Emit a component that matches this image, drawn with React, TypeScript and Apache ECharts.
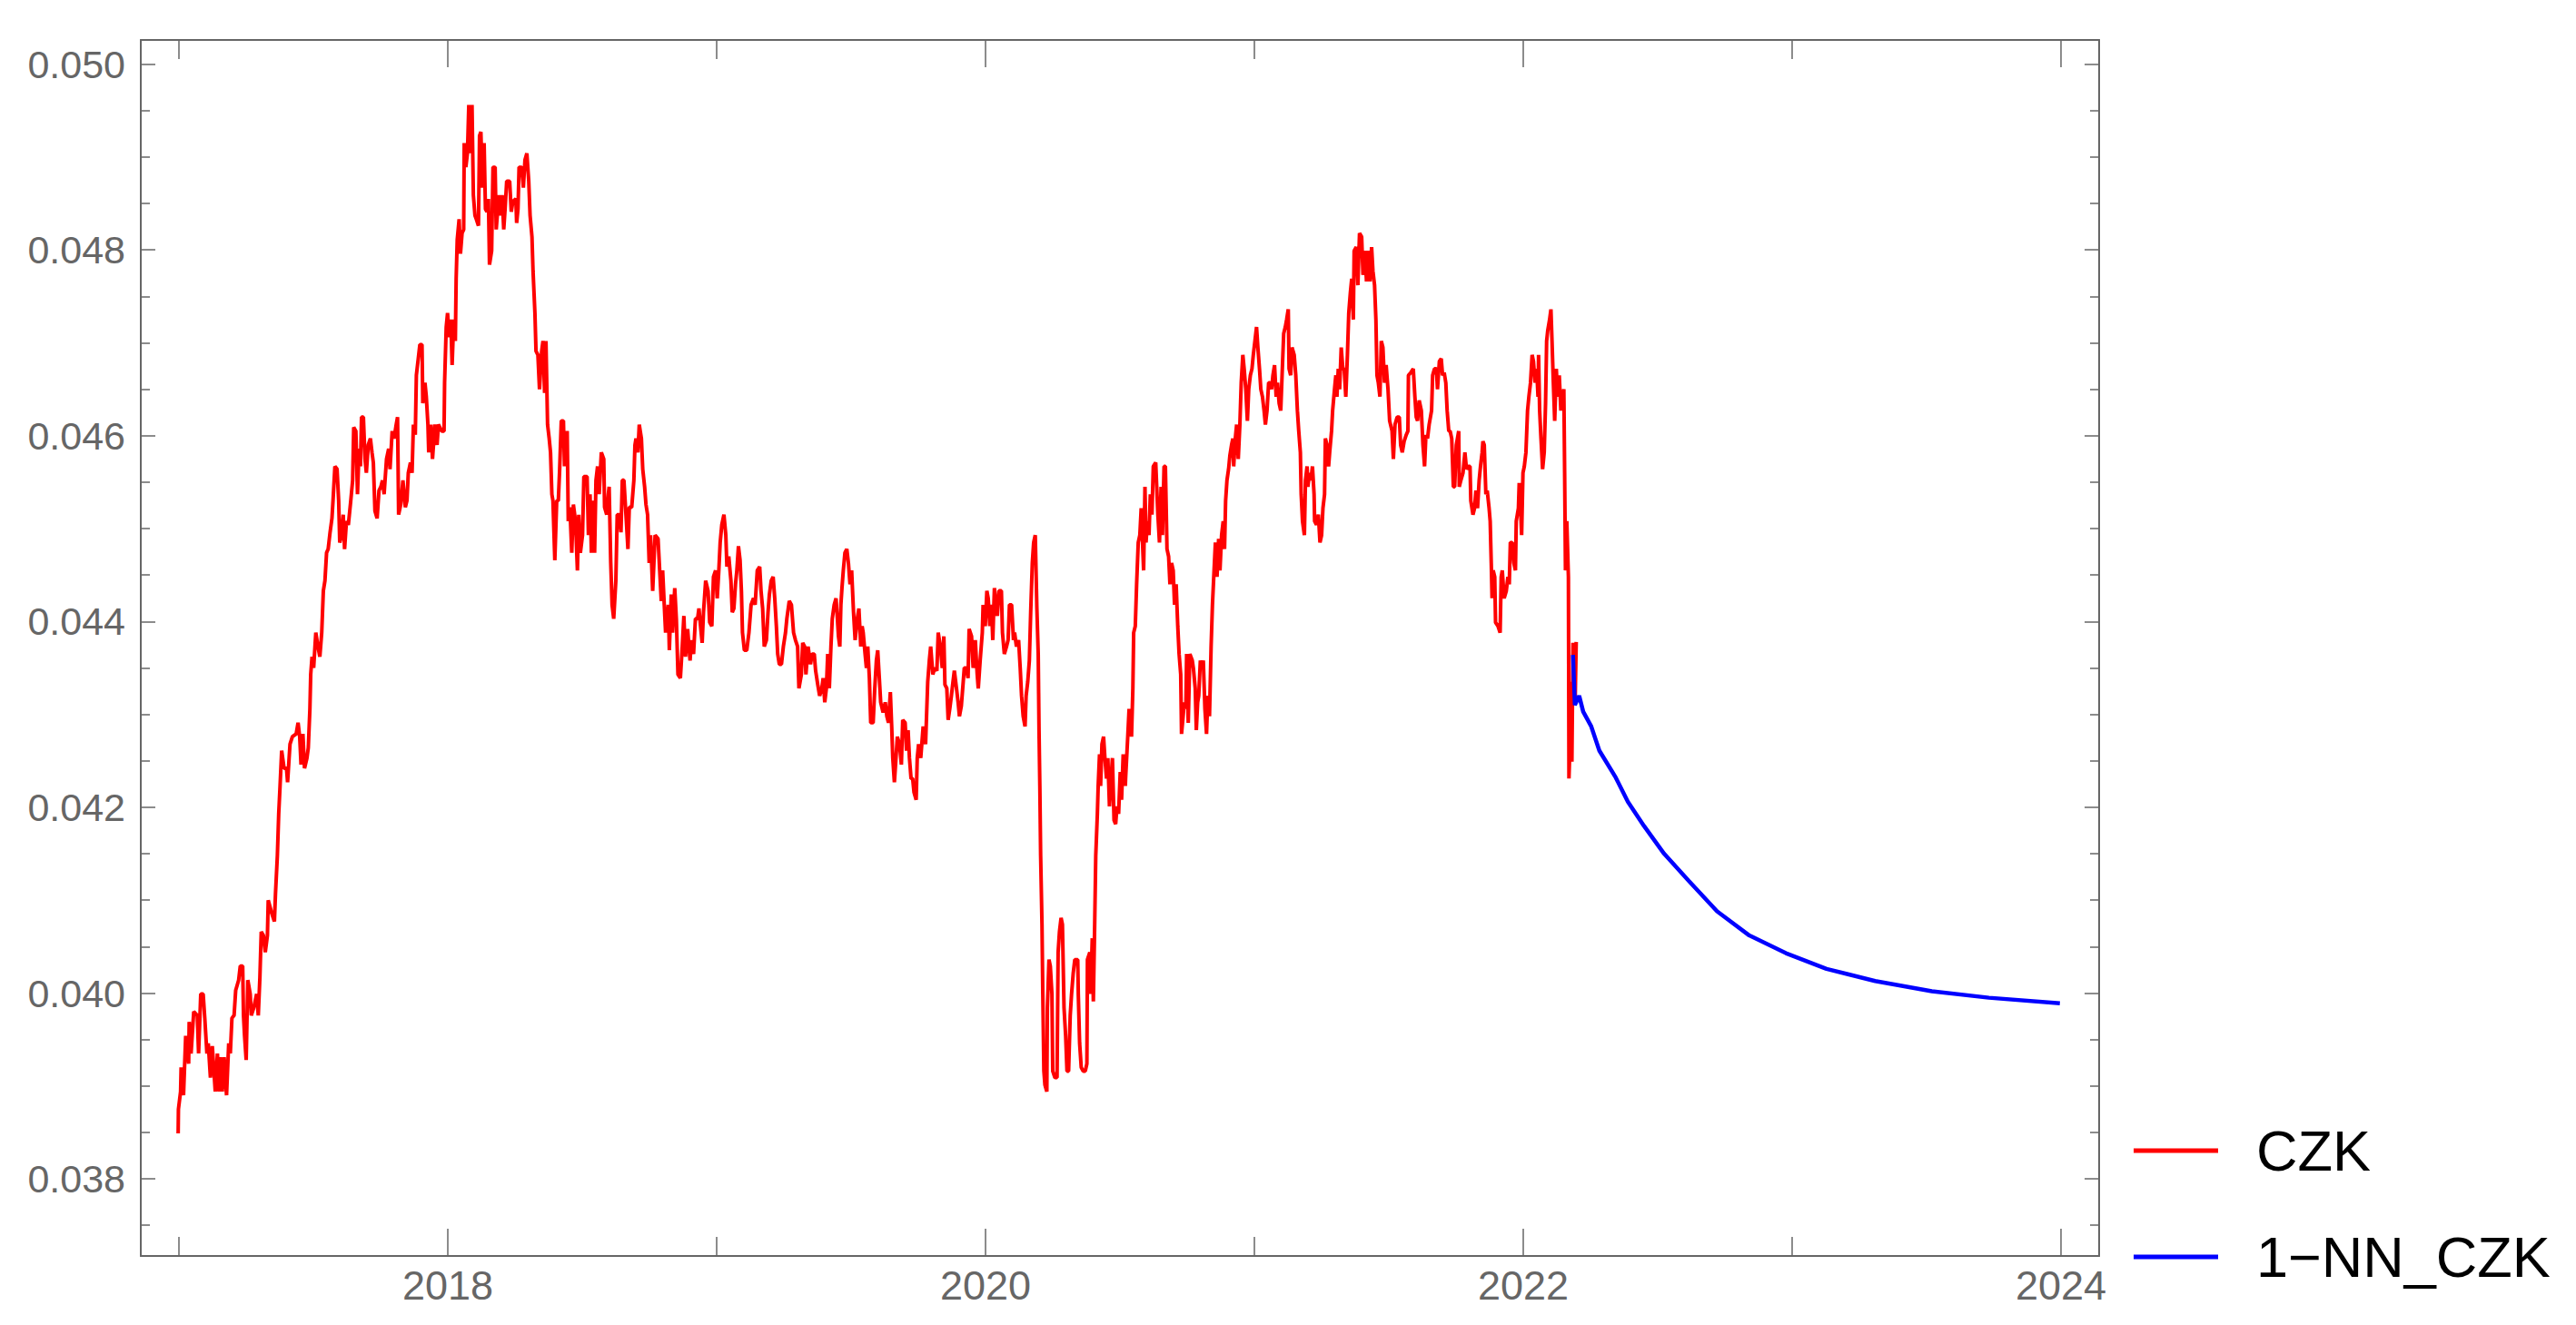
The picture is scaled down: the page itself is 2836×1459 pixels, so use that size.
import React, { useEffect, useRef } from "react";
import * as echarts from "echarts";

// ---- CZK observed series: [decimal year, value] ----
const czk2017: number[][] = [
  [2016.997,0.03849],[2016.998,0.03875],[2017.006,0.03894],[2017.008,0.03920],[2017.017,0.03890],[2017.025,0.03954],[2017.036,0.03924],[2017.038,0.03969],[2017.045,0.03935],[2017.055,0.03980],[2017.068,0.03976],[2017.073,0.03935],[2017.081,0.03999],[2017.090,0.03999],[2017.096,0.03973],[2017.104,0.03935],[2017.109,0.03946],[2017.117,0.03909],[2017.124,0.03943],[2017.135,0.03894],[2017.143,0.03935],[2017.149,0.03894],[2017.154,0.03931],[2017.161,0.03894],[2017.168,0.03931],[2017.177,0.03890],[2017.185,0.03946],[2017.191,0.03935],[2017.197,0.03973],[2017.205,0.03976],[2017.211,0.04003],[2017.222,0.04014],[2017.228,0.04029],[2017.237,0.04029],[2017.240,0.03976],[2017.244,0.03954],[2017.250,0.03928],[2017.256,0.04014],[2017.265,0.03999],[2017.269,0.03976],[2017.278,0.03984],[2017.289,0.03999],[2017.295,0.03976],[2017.301,0.04017],[2017.306,0.04066],[2017.314,0.04062],[2017.321,0.04044],[2017.329,0.04062],[2017.332,0.04100],[2017.346,0.04085],[2017.355,0.04077],[2017.359,0.04107],[2017.366,0.04148],[2017.371,0.04193],[2017.376,0.04223],[2017.382,0.04261],[2017.391,0.04242],[2017.400,0.04242],[2017.404,0.04227],[2017.413,0.04268],[2017.422,0.04276],[2017.436,0.04279],[2017.443,0.04291],[2017.449,0.04276],[2017.454,0.04246],[2017.461,0.04279],[2017.467,0.04242],[2017.476,0.04253],[2017.481,0.04264],[2017.487,0.04306],[2017.490,0.04343],[2017.495,0.04362],[2017.501,0.04350],[2017.509,0.04388],[2017.517,0.04373],[2017.524,0.04362],[2017.531,0.04388],[2017.537,0.04433],[2017.543,0.04444],[2017.549,0.04474],[2017.555,0.04478],[2017.562,0.04496],[2017.569,0.04511],[2017.573,0.04530],[2017.580,0.04567],[2017.588,0.04564],[2017.594,0.04530],[2017.598,0.04485],[2017.605,0.04493],[2017.611,0.04515],[2017.616,0.04478],[2017.623,0.04508],[2017.630,0.04504],[2017.639,0.04530],[2017.646,0.04552],[2017.650,0.04609],[2017.658,0.04605],[2017.664,0.04537],[2017.670,0.04586],[2017.675,0.04567],[2017.679,0.04620],[2017.686,0.04620],[2017.692,0.04575],[2017.697,0.04560],[2017.704,0.04590],[2017.712,0.04597],[2017.718,0.04582],[2017.723,0.04571],[2017.729,0.04519],[2017.737,0.04511],[2017.744,0.04541],[2017.751,0.04545],[2017.757,0.04552],[2017.763,0.04537],[2017.772,0.04575],[2017.780,0.04586],[2017.785,0.04564],[2017.793,0.04605],[2017.800,0.04597],[2017.808,0.04612],[2017.813,0.04620],[2017.817,0.04515],[2017.825,0.04526],[2017.833,0.04552],[2017.842,0.04523],[2017.848,0.04530],[2017.853,0.04560],[2017.861,0.04571],[2017.867,0.04560],[2017.872,0.04612],[2017.879,0.04601],[2017.883,0.04665]
];

const czk2018: number[][] = [
  [2017.896,0.04698],[2017.904,0.04698],[2017.907,0.04635],[2017.915,0.04657],[2017.920,0.04642],[2017.926,0.04612],[2017.929,0.04582],[2017.937,0.04612],[2017.943,0.04575],[2017.952,0.04612],[2017.960,0.04590],[2017.965,0.04612],[2017.977,0.04605],[2017.986,0.04605],[2017.988,0.04657],[2017.994,0.04717],[2017.999,0.04732],[2018.005,0.04706],[2018.011,0.04725],[2018.016,0.04676],[2018.022,0.04725],[2018.028,0.04702],[2018.031,0.04769],[2018.035,0.04811],[2018.042,0.04833],[2018.047,0.04796],[2018.053,0.04818],[2018.059,0.04822],[2018.061,0.04915],[2018.067,0.04889],[2018.073,0.04904],[2018.078,0.04956],[2018.084,0.04904],[2018.090,0.04956],[2018.095,0.04859],[2018.101,0.04837],[2018.106,0.04833],[2018.114,0.04826],[2018.118,0.04923],[2018.123,0.04927],[2018.129,0.04867],[2018.135,0.04915],[2018.140,0.04844],[2018.146,0.04841],[2018.151,0.04855],[2018.155,0.04784],[2018.163,0.04799],[2018.168,0.04889],[2018.176,0.04889],[2018.180,0.04822],[2018.185,0.04841],[2018.191,0.04859],[2018.196,0.04837],[2018.202,0.04859],[2018.208,0.04822],[2018.213,0.04844],[2018.219,0.04874],[2018.230,0.04874],[2018.236,0.04841],[2018.242,0.04852],[2018.253,0.04855],[2018.256,0.04829],[2018.261,0.04844],[2018.265,0.04889],[2018.275,0.04889],[2018.281,0.04867],[2018.287,0.04897],[2018.294,0.04904],[2018.301,0.04874],[2018.306,0.04837],[2018.313,0.04814],[2018.317,0.04777],[2018.324,0.04732],[2018.328,0.04691],[2018.335,0.04687],[2018.341,0.04650],[2018.349,0.04691],[2018.354,0.04702],[2018.360,0.04646],[2018.365,0.04702],[2018.371,0.04612],[2018.377,0.04597],[2018.382,0.04582],[2018.387,0.04537],[2018.391,0.04530],[2018.398,0.04466],[2018.405,0.04530],[2018.411,0.04530],[2018.416,0.04564],[2018.422,0.04616],[2018.430,0.04616],[2018.434,0.04567],[2018.439,0.04597],[2018.444,0.04605],[2018.448,0.04508],[2018.454,0.04523],[2018.461,0.04474],[2018.467,0.04526],[2018.475,0.04508],[2018.482,0.04455],[2018.487,0.04515],[2018.493,0.04474],[2018.501,0.04493],[2018.506,0.04556],[2018.518,0.04556],[2018.523,0.04493],[2018.529,0.04537],[2018.534,0.04474],[2018.540,0.04530],[2018.546,0.04474],[2018.551,0.04552],[2018.557,0.04567],[2018.563,0.04537],[2018.571,0.04582],[2018.580,0.04575],[2018.583,0.04523],[2018.591,0.04515],[2018.597,0.04537],[2018.600,0.04545],[2018.606,0.04463],[2018.611,0.04418],[2018.617,0.04403],[2018.625,0.04444],[2018.630,0.04515],[2018.638,0.04515],[2018.644,0.04496],[2018.649,0.04552],[2018.655,0.04552],[2018.664,0.04508],[2018.670,0.04478],[2018.675,0.04523],[2018.684,0.04523],[2018.692,0.04552],[2018.696,0.04590],[2018.700,0.04597],[2018.707,0.04582],[2018.712,0.04612],[2018.720,0.04597],[2018.725,0.04564],[2018.732,0.04545],[2018.737,0.04526],[2018.743,0.04515],[2018.749,0.04463],[2018.754,0.04493],[2018.762,0.04433]
];

const czk2019: number[][] = [
  [2018.771,0.04493],[2018.782,0.04489],[2018.788,0.04455],[2018.794,0.04422],[2018.799,0.04455],[2018.805,0.04418],[2018.810,0.04388],[2018.820,0.04418],[2018.824,0.04369],[2018.831,0.04429],[2018.836,0.04388],[2018.844,0.04436],[2018.850,0.04403],[2018.856,0.04343],[2018.865,0.04339],[2018.872,0.04373],[2018.878,0.04406],[2018.884,0.04362],[2018.892,0.04392],[2018.901,0.04358],[2018.906,0.04380],[2018.914,0.04365],[2018.921,0.04403],[2018.929,0.04403],[2018.934,0.04414],[2018.940,0.04395],[2018.946,0.04377],[2018.951,0.04410],[2018.959,0.04444],[2018.968,0.04433],[2018.974,0.04399],[2018.982,0.04395],[2018.988,0.04448],[2018.996,0.04455],[2019.002,0.04425],[2019.008,0.04455],[2019.013,0.04485],[2019.019,0.04504],[2019.027,0.04515],[2019.034,0.04493],[2019.038,0.04459],[2019.045,0.04470],[2019.053,0.04444],[2019.058,0.04410],[2019.064,0.04414],[2019.070,0.04440],[2019.075,0.04455],[2019.081,0.04481],[2019.087,0.04466],[2019.092,0.04433],[2019.096,0.04388],[2019.103,0.04369],[2019.112,0.04369],[2019.120,0.04388],[2019.128,0.04418],[2019.137,0.04425],[2019.143,0.04418],[2019.151,0.04455],[2019.160,0.04459],[2019.165,0.04433],[2019.171,0.04414],[2019.177,0.04373],[2019.185,0.04380],[2019.191,0.04410],[2019.196,0.04429],[2019.203,0.04444],[2019.210,0.04448],[2019.216,0.04425],[2019.222,0.04395],[2019.227,0.04365],[2019.233,0.04354],[2019.241,0.04354],[2019.248,0.04373],[2019.256,0.04388],[2019.261,0.04403],[2019.270,0.04422],[2019.278,0.04418],[2019.286,0.04388],[2019.293,0.04380],[2019.301,0.04373],[2019.306,0.04328],[2019.315,0.04343],[2019.320,0.04377],[2019.327,0.04373],[2019.332,0.04343],[2019.340,0.04373],[2019.349,0.04354],[2019.355,0.04365],[2019.363,0.04365],[2019.368,0.04347],[2019.376,0.04332],[2019.383,0.04320],[2019.391,0.04328],[2019.396,0.04339],[2019.402,0.04313],[2019.408,0.04328],[2019.413,0.04365],[2019.419,0.04328],[2019.425,0.04373],[2019.430,0.04403],[2019.437,0.04418],[2019.444,0.04425],[2019.449,0.04403],[2019.453,0.04384],[2019.458,0.04373],[2019.462,0.04418],[2019.466,0.04436],[2019.471,0.04455],[2019.477,0.04474],[2019.484,0.04478],[2019.490,0.04463],[2019.496,0.04440],[2019.502,0.04455],[2019.509,0.04410],[2019.515,0.04380],[2019.523,0.04403],[2019.529,0.04414],[2019.536,0.04373],[2019.541,0.04395],[2019.545,0.04388],[2019.552,0.04365],[2019.557,0.04350],[2019.562,0.04373],[2019.568,0.04339],[2019.573,0.04291],[2019.582,0.04291],[2019.588,0.04328],[2019.594,0.04358],[2019.599,0.04369],[2019.605,0.04339],[2019.610,0.04313],[2019.619,0.04302],[2019.627,0.04313],[2019.633,0.04298],[2019.639,0.04291]
];

const czk2020: number[][] = [
  [2019.646,0.04324],[2019.651,0.04287],[2019.655,0.04253],[2019.661,0.04227],[2019.667,0.04253],[2019.672,0.04276],[2019.680,0.04268],[2019.687,0.04246],[2019.692,0.04294],[2019.701,0.04291],[2019.706,0.04261],[2019.712,0.04283],[2019.717,0.04253],[2019.723,0.04231],[2019.729,0.04231],[2019.734,0.04216],[2019.742,0.04208],[2019.746,0.04253],[2019.751,0.04268],[2019.759,0.04253],[2019.768,0.04287],[2019.777,0.04268],[2019.785,0.04335],[2019.791,0.04358],[2019.796,0.04373],[2019.804,0.04343],[2019.811,0.04350],[2019.819,0.04347],[2019.824,0.04388],[2019.832,0.04373],[2019.839,0.04350],[2019.845,0.04384],[2019.849,0.04332],[2019.856,0.04328],[2019.861,0.04294],[2019.867,0.04306],[2019.873,0.04320],[2019.879,0.04335],[2019.884,0.04347],[2019.892,0.04328],[2019.898,0.04313],[2019.903,0.04298],[2019.910,0.04309],[2019.917,0.04335],[2019.921,0.04350],[2019.928,0.04350],[2019.935,0.04339],[2019.939,0.04392],[2019.948,0.04384],[2019.954,0.04350],[2019.962,0.04380],[2019.969,0.04343],[2019.973,0.04328],[2019.980,0.04358],[2019.988,0.04388],[2019.991,0.04418],[2019.999,0.04395],[2020.005,0.04433],[2020.010,0.04425],[2020.016,0.04395],[2020.022,0.04418],[2020.027,0.04380],[2020.033,0.04436],[2020.039,0.04418],[2020.044,0.04406],[2020.050,0.04433],[2020.059,0.04433],[2020.063,0.04388],[2020.070,0.04365],[2020.078,0.04373],[2020.084,0.04380],[2020.089,0.04418],[2020.097,0.04418],[2020.104,0.04380],[2020.108,0.04388],[2020.115,0.04373],[2020.123,0.04380],[2020.129,0.04350],[2020.134,0.04320],[2020.140,0.04298],[2020.147,0.04287],[2020.151,0.04320],[2020.157,0.04335],[2020.163,0.04358],[2020.168,0.04410],[2020.174,0.04463],[2020.179,0.04485],[2020.185,0.04493],[2020.191,0.04414],[2020.196,0.04365],[2020.199,0.04283],[2020.202,0.04223],[2020.205,0.04148],[2020.210,0.04074],[2020.213,0.03999],[2020.217,0.03916],[2020.221,0.03901],[2020.228,0.03894],[2020.230,0.03984],[2020.236,0.04036],[2020.241,0.04029],[2020.247,0.03999],[2020.250,0.03916],[2020.258,0.03909],[2020.266,0.03909],[2020.270,0.04044],[2020.275,0.04066],[2020.281,0.04081],[2020.286,0.04074],[2020.292,0.03984],[2020.298,0.03954],[2020.303,0.03916],[2020.309,0.03916],[2020.315,0.03976],[2020.320,0.03999],[2020.326,0.04021],[2020.332,0.04036],[2020.343,0.04036],[2020.345,0.03999],[2020.350,0.03946],[2020.356,0.03920],[2020.363,0.03916],[2020.371,0.03916],[2020.377,0.03924],[2020.379,0.04036],[2020.388,0.04044],[2020.391,0.03999],[2020.397,0.04059],[2020.401,0.03991],[2020.406,0.04074],[2020.410,0.04148],[2020.416,0.04193],[2020.419,0.04223],[2020.424,0.04257],[2020.428,0.04223],[2020.433,0.04268],[2020.439,0.04276],[2020.444,0.04253],[2020.450,0.04231],[2020.455,0.04253],[2020.461,0.04201],[2020.467,0.04231],[2020.472,0.04253],[2020.478,0.04186],[2020.484,0.04182],[2020.489,0.04201],[2020.495,0.04193],[2020.501,0.04238],[2020.506,0.04208],[2020.512,0.04257],[2020.520,0.04223]
];

const czk2021: number[][] = [
  [2020.521,0.04231],[2020.529,0.04276],[2020.534,0.04306],[2020.543,0.04276],[2020.548,0.04328],[2020.551,0.04388],[2020.557,0.04395],[2020.562,0.04440],[2020.568,0.04485],[2020.574,0.04493],[2020.579,0.04522],[2020.588,0.04455],[2020.593,0.04545],[2020.597,0.04485],[2020.602,0.04508],[2020.608,0.04493],[2020.613,0.04537],[2020.619,0.04515],[2020.624,0.04567],[2020.633,0.04571],[2020.641,0.04515],[2020.647,0.04485],[2020.653,0.04545],[2020.658,0.04493],[2020.664,0.04567],[2020.669,0.04567],[2020.675,0.04478],[2020.681,0.04470],[2020.686,0.04440],[2020.692,0.04463],[2020.698,0.04455],[2020.703,0.04418],[2020.709,0.04440],[2020.715,0.04395],[2020.720,0.04365],[2020.726,0.04343],[2020.729,0.04279],[2020.735,0.04298],[2020.739,0.04313],[2020.745,0.04306],[2020.748,0.04365],[2020.754,0.04291],[2020.760,0.04365],[2020.769,0.04358],[2020.773,0.04350],[2020.780,0.04328],[2020.784,0.04283],[2020.789,0.04313],[2020.793,0.04320],[2020.799,0.04358],[2020.805,0.04350],[2020.810,0.04358],[2020.816,0.04306],[2020.822,0.04279],[2020.827,0.04320],[2020.833,0.04298],[2020.839,0.04373],[2020.844,0.04418],[2020.850,0.04455],[2020.855,0.04485],[2020.861,0.04448],[2020.867,0.04489],[2020.872,0.04455],[2020.878,0.04493],[2020.884,0.04508],[2020.889,0.04478],[2020.893,0.04530],[2020.898,0.04552],[2020.904,0.04564],[2020.909,0.04579],[2020.915,0.04590],[2020.920,0.04597],[2020.923,0.04567],[2020.929,0.04597],[2020.934,0.04612],[2020.940,0.04575],[2020.946,0.04612],[2020.951,0.04657],[2020.957,0.04687],[2020.962,0.04672],[2020.968,0.04650],[2020.974,0.04616],[2020.979,0.04650],[2020.985,0.04665],[2020.991,0.04672],[2020.996,0.04687],[2021.002,0.04702],[2021.008,0.04717],[2021.013,0.04695],[2021.019,0.04672],[2021.024,0.04650],[2021.030,0.04642],[2021.036,0.04627],[2021.041,0.04612],[2021.047,0.04627],[2021.053,0.04657],[2021.058,0.04657],[2021.064,0.04650],[2021.069,0.04665],[2021.075,0.04676],[2021.081,0.04642],[2021.086,0.04657],[2021.092,0.04635],[2021.098,0.04627],[2021.103,0.04665],[2021.109,0.04710],[2021.115,0.04717],[2021.120,0.04725],[2021.126,0.04736],[2021.129,0.04672],[2021.135,0.04665],[2021.140,0.04695],[2021.148,0.04687],[2021.154,0.04665],[2021.160,0.04627],[2021.165,0.04605],[2021.171,0.04582],[2021.174,0.04537],[2021.179,0.04508],[2021.186,0.04493],[2021.190,0.04552],[2021.196,0.04567],[2021.199,0.04545],[2021.205,0.04560],[2021.210,0.04552],[2021.216,0.04567],[2021.222,0.04537],[2021.224,0.04508],[2021.231,0.04504],[2021.238,0.04515],[2021.244,0.04485],[2021.250,0.04493],[2021.255,0.04522],[2021.261,0.04537],[2021.264,0.04597],[2021.270,0.04590],[2021.276,0.04567],[2021.280,0.04582],[2021.287,0.04605],[2021.291,0.04627],[2021.298,0.04650],[2021.303,0.04665],[2021.307,0.04642],[2021.312,0.04672],[2021.317,0.04650],[2021.323,0.04695],[2021.329,0.04672],[2021.334,0.04672],[2021.340,0.04642],[2021.346,0.04687],[2021.351,0.04732],[2021.357,0.04754],[2021.362,0.04769],[2021.368,0.04725],[2021.371,0.04799],[2021.379,0.04803],[2021.385,0.04762],[2021.391,0.04818],[2021.399,0.04814]
];

const czk2022: number[][] = [
  [2021.404,0.04773],[2021.411,0.04799],[2021.417,0.04766],[2021.424,0.04799],[2021.430,0.04766],[2021.436,0.04803],[2021.441,0.04777],[2021.447,0.04762],[2021.452,0.04725],[2021.456,0.04665],[2021.461,0.04657],[2021.467,0.04642],[2021.472,0.04702],[2021.478,0.04695],[2021.484,0.04657],[2021.490,0.04676],[2021.497,0.04650],[2021.503,0.04616],[2021.512,0.04605],[2021.517,0.04575],[2021.523,0.04612],[2021.531,0.04620],[2021.539,0.04620],[2021.544,0.04590],[2021.550,0.04582],[2021.557,0.04594],[2021.565,0.04601],[2021.571,0.04605],[2021.573,0.04665],[2021.582,0.04668],[2021.591,0.04672],[2021.597,0.04642],[2021.602,0.04620],[2021.607,0.04616],[2021.613,0.04638],[2021.621,0.04627],[2021.627,0.04590],[2021.633,0.04567],[2021.638,0.04601],[2021.644,0.04597],[2021.650,0.04612],[2021.659,0.04627],[2021.663,0.04665],[2021.670,0.04672],[2021.677,0.04672],[2021.681,0.04650],[2021.688,0.04680],[2021.695,0.04683],[2021.700,0.04665],[2021.706,0.04668],[2021.712,0.04657],[2021.717,0.04627],[2021.723,0.04605],[2021.728,0.04605],[2021.734,0.04597],[2021.740,0.04545],[2021.745,0.04545],[2021.751,0.04590],[2021.760,0.04605],[2021.762,0.04545],[2021.768,0.04552],[2021.776,0.04560],[2021.783,0.04582],[2021.789,0.04564],[2021.796,0.04567],[2021.802,0.04567],[2021.805,0.04530],[2021.813,0.04515],[2021.819,0.04522],[2021.824,0.04541],[2021.830,0.04522],[2021.836,0.04552],[2021.841,0.04567],[2021.847,0.04582],[2021.850,0.04594],[2021.855,0.04590],[2021.861,0.04537],[2021.866,0.04541],[2021.873,0.04522],[2021.877,0.04508],[2021.881,0.04463],[2021.884,0.04425],[2021.888,0.04455],[2021.894,0.04448],[2021.897,0.04399],[2021.906,0.04395],[2021.914,0.04388],[2021.918,0.04448],[2021.922,0.04455],[2021.929,0.04425],[2021.937,0.04433],[2021.943,0.04448],[2021.948,0.04440],[2021.952,0.04485],[2021.959,0.04485],[2021.965,0.04463],[2021.971,0.04455],[2021.974,0.04508],[2021.982,0.04522],[2021.985,0.04549],[2021.990,0.04522],[2021.994,0.04493],[2021.999,0.04560],[2022.004,0.04567],[2022.010,0.04582],[2022.016,0.04627],[2022.021,0.04642],[2022.027,0.04657],[2022.033,0.04687],[2022.038,0.04680],[2022.044,0.04657],[2022.050,0.04672],[2022.055,0.04642],[2022.057,0.04687],[2022.061,0.04627],[2022.066,0.04597],[2022.072,0.04564],[2022.078,0.04582],[2022.083,0.04635],[2022.087,0.04702],[2022.091,0.04713],[2022.098,0.04725],[2022.103,0.04736],[2022.107,0.04702],[2022.112,0.04657],[2022.117,0.04616],[2022.123,0.04672],[2022.128,0.04642],[2022.134,0.04665],[2022.140,0.04627],[2022.145,0.04642],[2022.151,0.04650],[2022.154,0.04560],[2022.157,0.04455],[2022.162,0.04508],[2022.168,0.04448],[2022.170,0.04231],[2022.174,0.04268],[2022.177,0.04335],[2022.181,0.04249],[2022.185,0.04377],[2022.193,0.04313],[2022.197,0.04378]
];

// ---- 1−NN_CZK forecast ----
const nnCzk: number[][] = [
  [2022.185,0.04364],[2022.192,0.04310],[2022.208,0.04320],[2022.223,0.04303],[2022.253,0.04287],[2022.283,0.04261],[2022.344,0.04232],[2022.389,0.04206],[2022.449,0.04180],[2022.524,0.04150],[2022.615,0.04121],[2022.721,0.04088],[2022.841,0.04062],[2022.977,0.04043],[2023.128,0.04026],[2023.309,0.04013],[2023.520,0.04002],[2023.732,0.03995],[2023.996,0.03989]
];

// ---- ticks ----
const xMajorTicks = [2018, 2020, 2022, 2024];
const xMinorTicks = [2017, 2019, 2021, 2023];
const yMajorTicks = [0.038, 0.040, 0.042, 0.044, 0.046, 0.048, 0.050];
const yMinorTicks = [0.0375, 0.0385, 0.039, 0.0395, 0.0405, 0.041, 0.0415, 0.0425, 0.043, 0.0435, 0.0445, 0.045, 0.0455, 0.0465, 0.047, 0.0475, 0.0485, 0.049, 0.0495];

const seriesNames = ["CZK", "1\u2212NN_CZK"];

const X_MIN = 2016.858;
const X_MAX = 2024.142;
const Y_MIN = 0.03717;
const Y_MAX = 0.05026;

const FRAME = "#666666";
const LABEL_FONT = "Liberation Sans, Arial, sans-serif";

function xAxisDef(position: string, ticks: number[], len: number, line: boolean, labels: boolean) {
  return {
    type: "value",
    min: X_MIN,
    max: X_MAX,
    position,
    axisLine: { show: line, onZero: false, lineStyle: { color: FRAME, width: 2 } },
    axisTick: { show: true, inside: true, length: len, customValues: ticks, lineStyle: { color: FRAME, width: 1.5 } },
    axisLabel: labels
      ? { show: true, customValues: ticks, margin: 10, fontSize: 45, color: FRAME, fontFamily: LABEL_FONT, formatter: (v: number) => String(Math.round(v)) }
      : { show: false },
    splitLine: { show: false },
    axisPointer: { show: false },
  };
}

function yAxisDef(position: string, ticks: number[], len: number, line: boolean, labels: boolean) {
  return {
    type: "value",
    min: Y_MIN,
    max: Y_MAX,
    position,
    axisLine: { show: line, onZero: false, lineStyle: { color: FRAME, width: 2 } },
    axisTick: { show: true, inside: true, length: len, customValues: ticks, lineStyle: { color: FRAME, width: 1.5 } },
    axisLabel: labels
      ? { show: true, customValues: ticks, margin: 17, fontSize: 43, color: FRAME, fontFamily: LABEL_FONT, formatter: (v: number) => v.toFixed(3) }
      : { show: false },
    splitLine: { show: false },
    axisPointer: { show: false },
  };
}

export default function App() {
  const ref = useRef<HTMLDivElement>(null);
  useEffect(() => {
    document.body.style.margin = "0";
    if (!ref.current) return;
    const chart = echarts.init(ref.current, undefined, { renderer: "svg" });
    const czk = ([] as number[][]).concat(czk2017, czk2018, czk2019, czk2020, czk2021, czk2022);
    chart.setOption({
      animation: false,
      backgroundColor: "#ffffff",
      grid: { left: 155, right: 525, top: 44, bottom: 76, containLabel: false },
      xAxis: [
        xAxisDef("bottom", xMajorTicks, 30, true, true),
        xAxisDef("bottom", xMinorTicks, 21, false, false),
        xAxisDef("top", xMajorTicks, 30, true, false),
        xAxisDef("top", xMinorTicks, 21, false, false),
      ],
      yAxis: [
        yAxisDef("left", yMajorTicks, 16, true, true),
        yAxisDef("left", yMinorTicks, 10, false, false),
        yAxisDef("right", yMajorTicks, 16, true, false),
        yAxisDef("right", yMinorTicks, 10, false, false),
      ],
      legend: {
        orient: "vertical",
        left: 2344,
        top: 1230,
        icon: "rect",
        itemWidth: 93,
        itemHeight: 5,
        itemGap: 53,
        data: seriesNames,
        textStyle: { fontSize: 63, lineHeight: 64, color: "#000", fontFamily: LABEL_FONT, padding: [0, 0, 0, 37] },
      },
      series: [
        {
          name: seriesNames[0],
          type: "line",
          xAxisIndex: 0,
          yAxisIndex: 0,
          data: czk,
          showSymbol: false,
          symbol: "none",
          color: "#ff0000",
          lineStyle: { color: "#ff0000", width: 4 },
          z: 3,
        },
        {
          name: seriesNames[1],
          type: "line",
          xAxisIndex: 0,
          yAxisIndex: 0,
          data: nnCzk,
          showSymbol: false,
          symbol: "none",
          color: "#0000ff",
          lineStyle: { color: "#0000ff", width: 4.5 },
          z: 4,
        },
      ],
    });
    return () => chart.dispose();
  }, []);
  return <div ref={ref} style={{ width: 2836, height: 1459 }} />;
}
